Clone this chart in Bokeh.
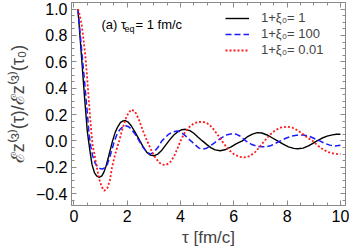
from bokeh.plotting import figure
from bokeh.models import (FixedTicker, LinearAxis, Legend, LegendItem, Label,
                          Range1d, CustomJSTickFormatter)
from bokeh.embed import file_html
from bokeh.resources import INLINE

# ---- data ----
tau_black = [0.15, 0.2, 0.3, 0.4, 0.5, 0.55, 0.62, 0.68, 0.77, 0.85, 0.95, 1.05, 1.13, 1.2, 1.3,
             1.45, 1.55, 1.64, 1.75, 1.85, 1.93, 2.05, 2.15, 2.3, 2.45, 2.6, 2.75, 2.87, 3.0,
             3.15, 3.3, 3.45, 3.6, 3.75, 3.9, 4.05, 4.18, 4.35, 4.5, 4.65, 4.82, 5.0, 5.15,
             5.3, 5.49, 5.7, 5.9, 6.1, 6.32, 6.5, 6.7, 6.88, 7.05, 7.25, 7.45, 7.64, 7.85,
             8.05, 8.25, 8.4, 8.6, 8.8, 8.95, 9.12, 9.3, 9.5, 9.7, 9.85, 10.0]
val_black = [1.0, 0.87, 0.6, 0.33, 0.08, 0.0, -0.1, -0.18, -0.24, -0.265, -0.277, -0.265, -0.235,
             -0.195, -0.12, 0.0, 0.065, 0.105, 0.14, 0.152, 0.155, 0.14, 0.115, 0.065, 0.01,
             -0.045, -0.09, -0.108, -0.113, -0.1, -0.07, -0.03, 0.01, 0.045, 0.07, 0.085, 0.088,
             0.078, 0.058, 0.03, 0.0, -0.03, -0.053, -0.068, -0.075, -0.065, -0.045, -0.02, 0.0,
             0.03, 0.052, 0.063, 0.06, 0.045, 0.022, 0.0, -0.025, -0.045, -0.057, -0.06, -0.055,
             -0.038, -0.02, 0.0, 0.02, 0.036, 0.046, 0.05, 0.051]

tau_blue = [0.15, 0.2, 0.3, 0.4, 0.5, 0.57, 0.63, 0.7, 0.8, 0.9, 1.0, 1.07, 1.15, 1.25, 1.35, 1.45,
            1.52, 1.62, 1.72, 1.83, 1.95, 2.05, 2.15, 2.3, 2.45, 2.6, 2.75, 2.87, 3.0, 3.15, 3.3,
            3.43, 3.55, 3.7, 3.87, 4.0, 4.18, 4.3, 4.42, 4.55, 4.68, 4.8, 4.95, 5.1, 5.25, 5.4,
            5.55, 5.75, 5.95, 6.1, 6.25, 6.45, 6.65, 6.85, 7.05, 7.2, 7.4, 7.55, 7.75, 7.95, 8.15,
            8.35, 8.6, 8.8, 9.0, 9.22, 9.4, 9.6, 9.8, 10.0]
val_blue = [1.0, 0.89, 0.67, 0.45, 0.22, 0.05, -0.04, -0.11, -0.17, -0.2, -0.212, -0.213, -0.205,
            -0.18, -0.12, -0.05, 0.0, 0.05, 0.085, 0.107, 0.115, 0.108, 0.09, 0.05, 0.0, -0.05,
            -0.088, -0.1, -0.085, -0.05, 0.0, 0.025, 0.05, 0.068, 0.075, 0.068, 0.04, 0.015, -0.005,
            -0.03, -0.053, -0.063, -0.058, -0.04, -0.018, 0.005, 0.025, 0.047, 0.055, 0.05, 0.035,
            0.0, -0.025, -0.04, -0.045, -0.045, -0.035, -0.02, 0.0, 0.02, 0.035, 0.043, 0.045,
            0.038, 0.02, 0.0, -0.018, -0.032, -0.038, -0.033]

tau_red = [0.15, 0.2, 0.3, 0.4, 0.45, 0.5, 0.6, 0.66, 0.7, 0.78, 0.86, 0.95, 1.05, 1.14, 1.25, 1.35,
           1.43, 1.55, 1.7, 1.82, 1.95, 2.05, 2.17, 2.3, 2.42, 2.55, 2.68, 2.75, 2.9, 3.05, 3.2,
           3.35, 3.45, 3.6, 3.75, 3.88, 4.0, 4.15, 4.3, 4.5, 4.65, 4.8, 4.95, 5.1, 5.25, 5.4, 5.55,
           5.7, 5.85, 6.0, 6.2, 6.4, 6.6, 6.8, 6.95, 7.15, 7.35, 7.55, 7.75, 8.0, 8.2, 8.4, 8.6,
           8.8, 8.96, 9.15, 9.35, 9.55, 9.75, 9.9, 10.0]
val_red = [1.0, 0.97, 0.87, 0.7, 0.6, 0.47, 0.2, 0.05, -0.03, -0.11, -0.2, -0.29, -0.35, -0.378,
           -0.36, -0.3, -0.2, -0.1, 0.0, 0.09, 0.17, 0.215, 0.238, 0.22, 0.17, 0.1, 0.03, 0.0,
           -0.07, -0.125, -0.165, -0.18, -0.183, -0.165, -0.12, -0.06, 0.0, 0.06, 0.1, 0.133,
           0.143, 0.145, 0.14, 0.12, 0.085, 0.045, 0.0, -0.04, -0.075, -0.1, -0.12, -0.125,
           -0.115, -0.085, -0.05, 0.0, 0.045, 0.08, 0.1, 0.108, 0.1, 0.08, 0.05, 0.02, 0.0,
           -0.035, -0.065, -0.085, -0.097, -0.1, -0.1]

legend_labels = ["1+\u03be\u2080= 1", "1+\u03be\u2080= 100", "1+\u03be\u2080= 0.01"]
x_ticks = [0, 2, 4, 6, 8, 10]
x_minor = [i * 0.5 for i in range(0, 21)]
y_ticks = [-0.4, -0.2, 0.0, 0.2, 0.4, 0.6, 0.8, 1.0]
y_minor = [round(-0.5 + i * 0.05, 2) for i in range(0, 32)]

FONT = "Liberation Sans"
GRAY = "#8a8a8a"

p = figure(width=349, height=252, x_range=Range1d(-0.09, 10.19), y_range=Range1d(-0.49, 1.05),
           output_backend="svg", toolbar_location=None,
           min_border_left=71, min_border_right=4, min_border_top=2, min_border_bottom=47)
p.xgrid.visible = False
p.ygrid.visible = False
p.outline_line_color = GRAY
p.background_fill_color = "white"
p.border_fill_color = "white"

r_black = p.line(tau_black, val_black, line_color="black", line_width=1.4)
r_blue = p.line(tau_blue, val_blue, line_color="#1a1aff", line_width=1.5, line_dash="6 3")
r_red = p.line(tau_red, val_red, line_color="#ff1a1a", line_width=1.8, line_dash="2 2")

yfmt = CustomJSTickFormatter(code="return tick < -1e-9 ? '\u2212' + (-tick).toFixed(1) : Math.abs(tick).toFixed(1);")
blank = CustomJSTickFormatter(code="return '';")

def style(ax, labels=True):
    ax.axis_line_color = GRAY
    ax.major_tick_line_color = GRAY
    ax.minor_tick_line_color = GRAY
    ax.major_tick_in = 5
    ax.major_tick_out = 0
    ax.minor_tick_in = 3
    ax.minor_tick_out = 0
    if labels:
        ax.major_label_text_font = FONT
        ax.major_label_text_font_size = "16px"
        ax.major_label_text_color = "black"
        ax.major_label_standoff = 4
    else:
        ax.formatter = blank
        ax.major_label_text_font_size = "1px"
        ax.major_label_standoff = 0

xax = p.xaxis[0]
xax.ticker = FixedTicker(ticks=x_ticks, minor_ticks=x_minor)
style(xax)
xax.axis_label = "\u03c4 [fm/c]"
xax.axis_label_text_font = FONT
xax.axis_label_text_font_style = "normal"
xax.axis_label_text_font_size = "17px"
xax.axis_label_standoff = 3

yax = p.yaxis[0]
yax.ticker = FixedTicker(ticks=y_ticks, minor_ticks=y_minor)
yax.formatter = yfmt
style(yax)
yax.axis_label = "\u2130z\u207d\u00b3\u207e(\u03c4)/\u2130z\u207d\u00b3\u207e(\u03c4\u2080)"
yax.axis_label_text_font = FONT
yax.axis_label_text_font_style = "normal"
yax.axis_label_text_font_size = "18px"
yax.axis_label_standoff = 5

top = LinearAxis(ticker=FixedTicker(ticks=x_ticks, minor_ticks=x_minor))
style(top, labels=False)
p.add_layout(top, "above")
right = LinearAxis(ticker=FixedTicker(ticks=y_ticks, minor_ticks=y_minor))
style(right, labels=False)
p.add_layout(right, "right")

legend = Legend(items=[LegendItem(label=legend_labels[0], renderers=[r_black]),
                       LegendItem(label=legend_labels[1], renderers=[r_blue]),
                       LegendItem(label=legend_labels[2], renderers=[r_red])],
                location=(154, 148))
legend.background_fill_alpha = 0
legend.border_line_alpha = 0
legend.glyph_width = 24
legend.glyph_height = 12
legend.label_height = 12
legend.label_standoff = 12
legend.spacing = 1
legend.padding = 0
legend.margin = 0
legend.label_text_font = FONT
legend.label_text_font_size = "13px"
p.add_layout(legend)

for txt, x, y, size in [("(a) \u03c4", 30, 181, "13px"), ("eq", 53, 177, "9px"),
                        ("= 1 fm/c", 64, 181, "13px")]:
    p.add_layout(Label(x=x, y=y, x_units="screen", y_units="screen", text=txt,
                       text_font=FONT, text_font_size=size, text_baseline="middle",
                       text_color="black"))

open("out.html", "w").write(file_html(p, INLINE))
